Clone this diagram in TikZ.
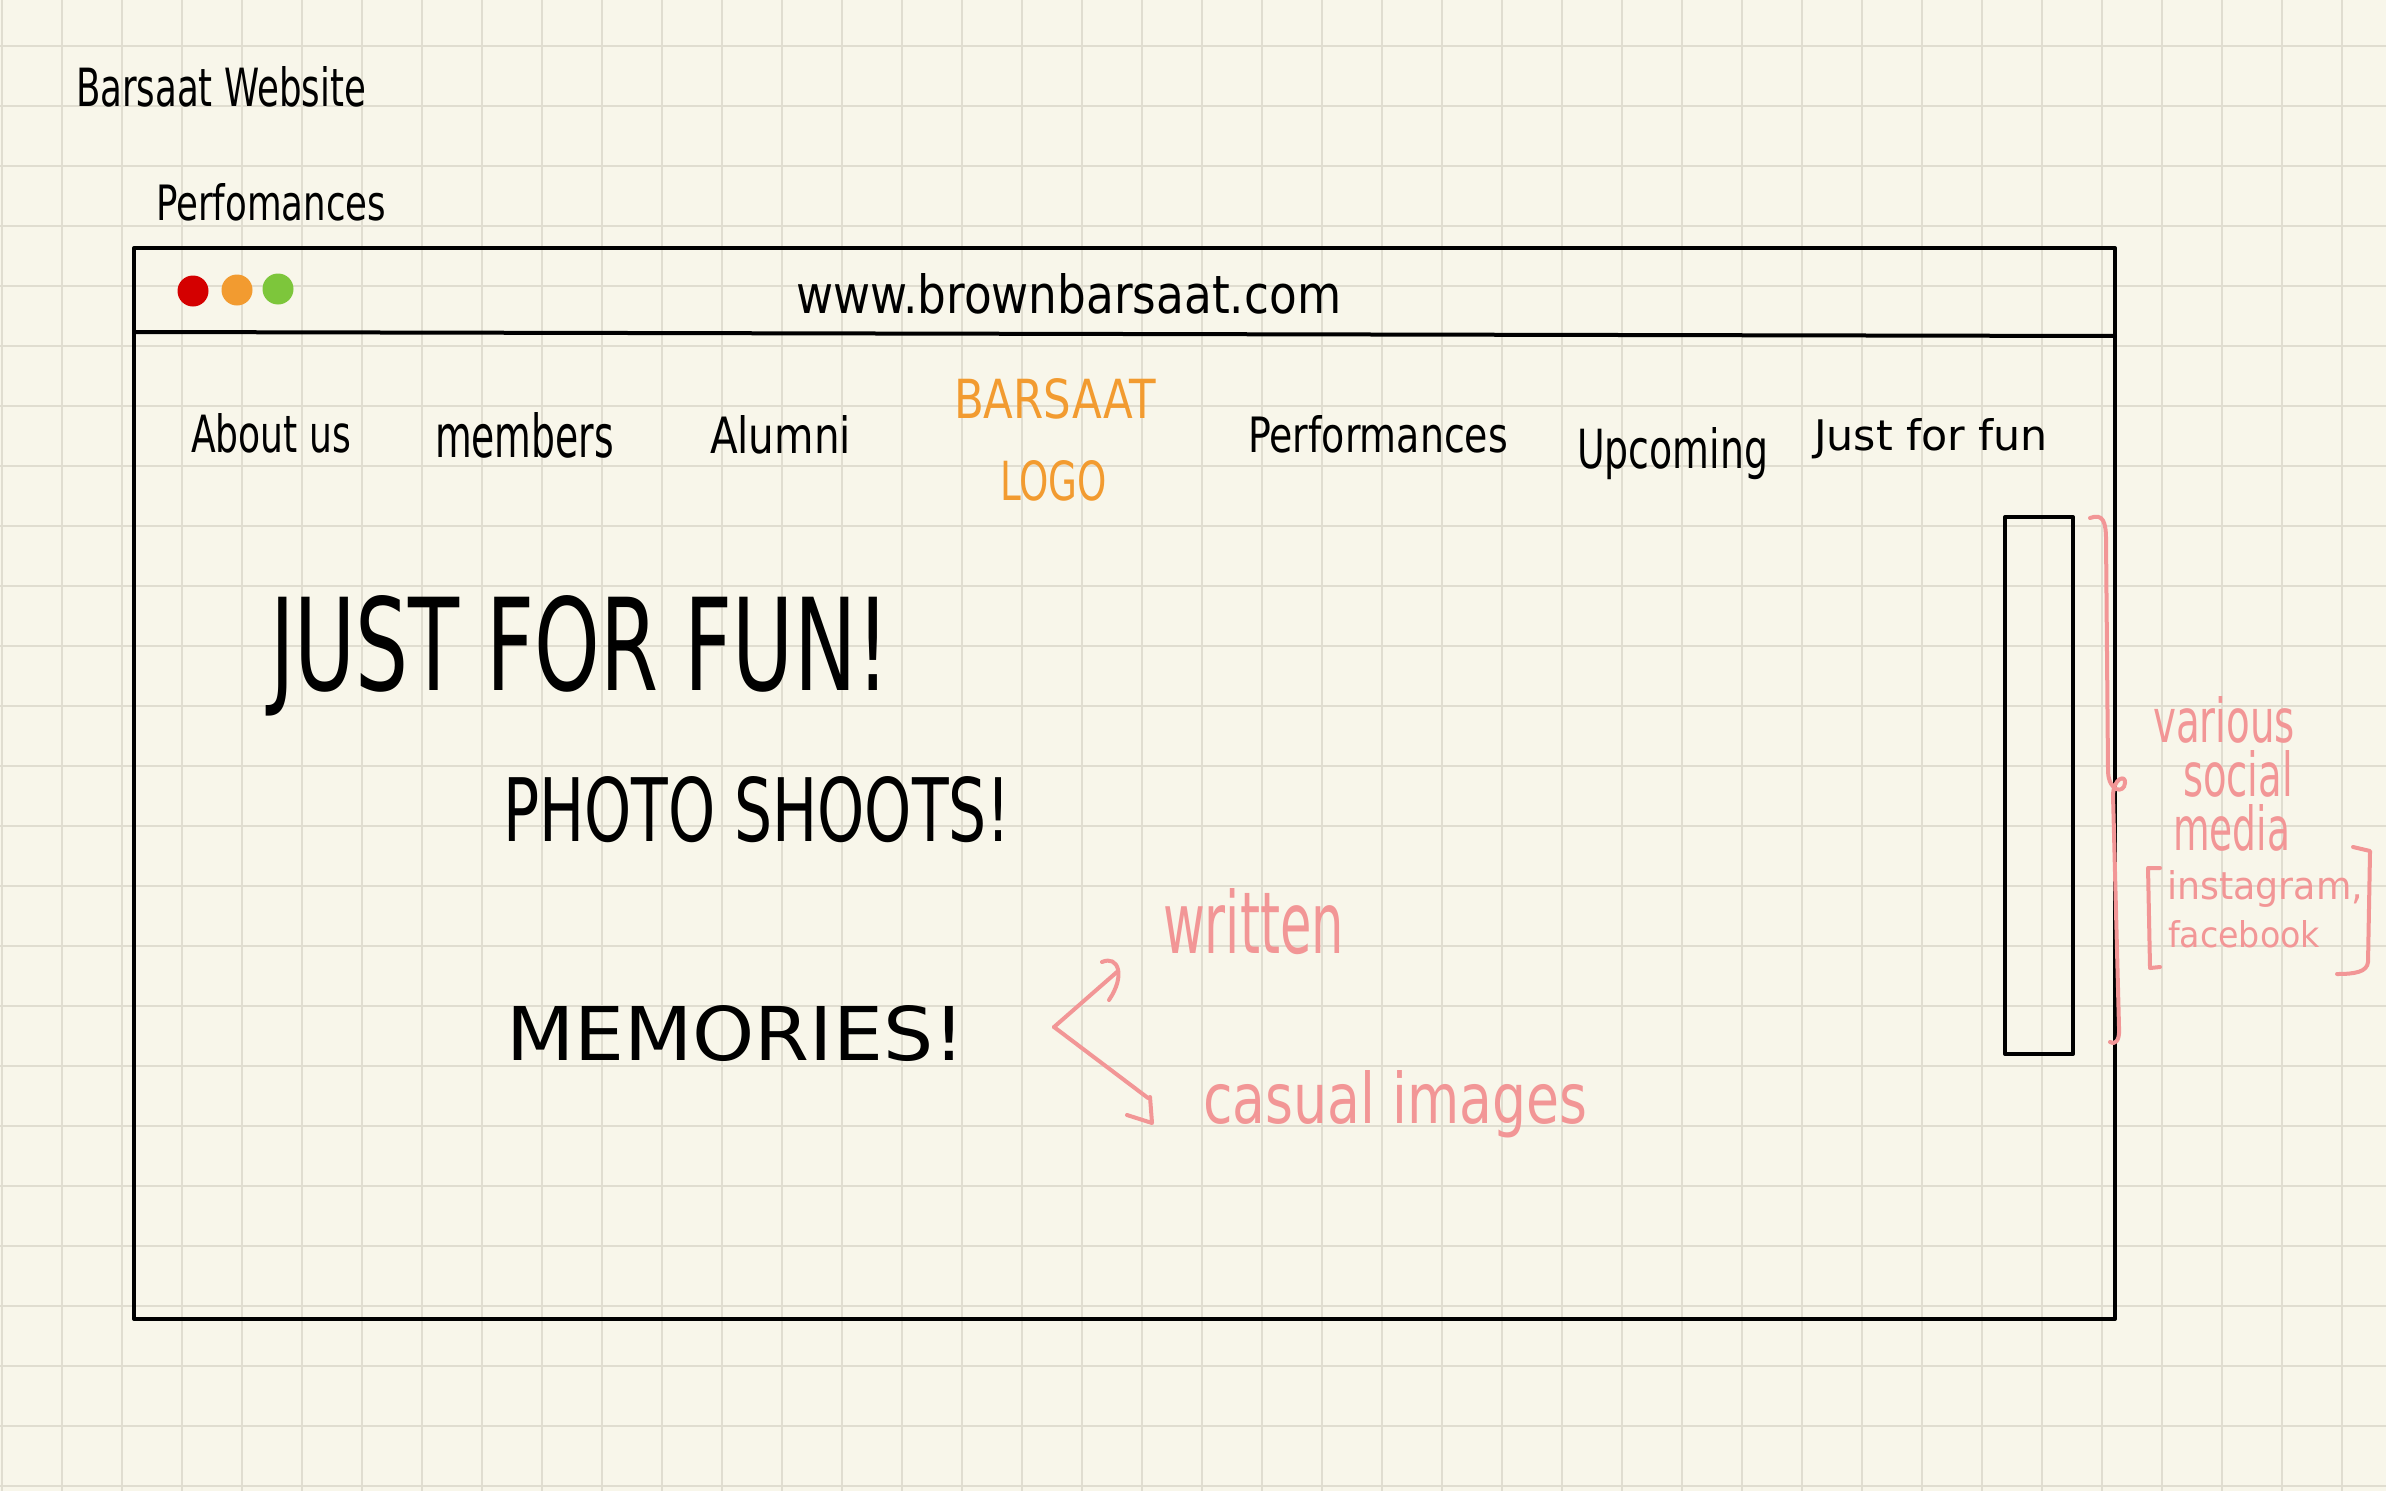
\documentclass[tikz,border=0pt]{standalone}
\usepackage{fontspec}
\setmainfont{DejaVu Sans}
\usepackage{graphicx}
\newlength\pxu \setlength\pxu{0.01cm}
\newcommand\hw[3]{\resizebox{#1\pxu}{#2\pxu}{#3}}
\definecolor{bgc}{RGB}{248,246,234}
\definecolor{gridc}{RGB}{224,221,208}
\definecolor{pinkc}{RGB}{242,150,150}
\definecolor{orangec}{RGB}{242,155,48}
\definecolor{redc}{RGB}{212,0,0}
\definecolor{greenc}{RGB}{125,198,59}
\begin{document}
\begin{tikzpicture}[x=0.01cm,y=-0.01cm,
  txt/.style={anchor=base west, inner sep=0pt, outer sep=0pt},
  ink/.style={draw=black, line width=4\pxu, line cap=round, line join=round},
  pinkink/.style={draw=pinkc, line width=4\pxu, line cap=round, line join=round},
  gridline/.style={draw=gridc, line width=2.5\pxu}]
\fill[bgc] (0,0) rectangle (2386,1491);
\useasboundingbox (0,0) rectangle (2386,1491);
% grid
\foreach \i in {0,...,39} \draw[gridline] ({2+60*\i},0) -- ({2+60*\i},1491);
\foreach \j in {0,...,24} \draw[gridline] (0,{46+60*\j}) -- (2386,{46+60*\j});
% titles
\node[txt] (title) at (76,107) {\hw{290}{40}{Barsaat Website}};
\node[txt] (page) at (156,220) {\hw{230}{37}{Perfomances}};
% browser window
\draw[ink] (134,248) rectangle (2115,1319);
\draw[ink] (134,332) -- (2115,336);
\fill[redc] (193,291) circle (15.5);
\fill[orangec] (237,290) circle (15.5);
\fill[greenc] (278,289) circle (15.5);
\node[txt] (url) at (796,313) {\hw{545}{40}{www.brownbarsaat.com}};
% navigation
\node[txt] (about) at (191,452) {\hw{160}{39}{About us}};
\node[txt] (members) at (435,457) {\hw{179}{45}{members}};
\node[txt] (alumni) at (710,453) {\hw{141}{38}{Alumni}};
\node[txt, text=orangec] (logo1) at (954,418) {\hw{202}{40}{BARSAAT}};
\node[txt, text=orangec] (logo2) at (1000,500) {\hw{107}{40}{LOGO}};
\node[txt] (perf) at (1248,452) {\hw{260}{37}{Performances}};
\node[txt] (upc) at (1577,468) {\hw{191}{41}{Upcoming}};
\node[txt] (jff) at (1814,450) {\hw{234}{32}{Just for fun}};
% content
\node[txt] (head) at (270,690) {\hw{620}{95}{JUST FOR FUN!}};
\node[txt] (photo) at (503,841) {\hw{508}{65}{PHOTO SHOOTS!}};
\node[txt] (mem) at (506,1060) {\hw{459}{55}{MEMORIES!}};
% scroll / social box
\draw[ink] (2005,517) rectangle (2073,1054);
% pink annotations
\node[txt, text=pinkc] (written) at (1163,953) {\hw{181}{65}{written}};
\node[txt, text=pinkc] (casual) at (1203,1123) {\hw{384}{53}{casual images}};
\coordinate (av) at (1054,1027);
\coordinate (aup) at (1118,971);
\coordinate (adn) at (1148,1098);
\draw[pinkink] (av) -- (aup);
\draw[pinkink] (1102,962) .. controls (1118,955) and (1126,975) .. (1109,1000);
\draw[pinkink] (av) -- (adn);
\draw[pinkink] (1127,1115) -- (1152,1123) -- (1150,1097);
% brace
\draw[pinkink] (2090,518) .. controls (2103,513) and (2106,522) .. (2106,540)
  -- (2108,772) .. controls (2109,792) and (2124,794) .. (2125,783)
  .. controls (2126,774) and (2113,778) .. (2113,796)
  -- (2119,1028) .. controls (2120,1042) and (2114,1045) .. (2110,1042);
\node[txt, text=pinkc] (various) at (2153,742) {\hw{142}{46}{various}};
\node[txt, text=pinkc] (social) at (2183,796) {\hw{110}{46}{social}};
\node[txt, text=pinkc] (media) at (2173,850) {\hw{117}{46}{media}};
\node[txt, text=pinkc] (insta) at (2167,899) {\hw{196}{29}{instagram,}};
\node[txt, text=pinkc] (fb) at (2168,947) {\hw{152}{27}{facebook}};
\draw[pinkink] (2160,868) -- (2148,868) -- (2150,968) -- (2160,967);
\draw[pinkink] (2353,847) -- (2370,851) -- (2368,962) .. controls (2367,972) and (2355,974) .. (2337,974);
\end{tikzpicture}
\end{document}
